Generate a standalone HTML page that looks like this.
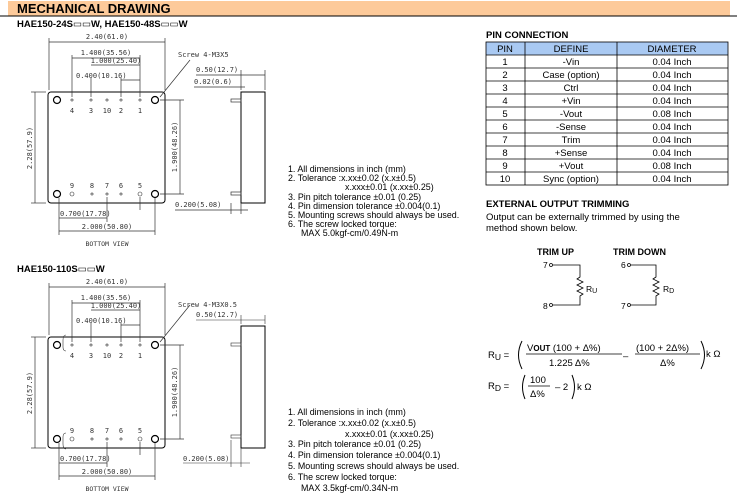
<!DOCTYPE html>
<html><head><meta charset="utf-8"><style>
body{margin:0;background:#fff;width:737px;height:502px;overflow:hidden}
svg{display:block;font-family:"Liberation Sans",sans-serif}
.m{font-family:"DejaVu Sans Mono","Liberation Mono",monospace;font-size:7px;fill:#333}
.n{font-size:8.9px;fill:#000}
</style></head><body>
<svg width="737" height="502" viewBox="0 0 737 502" xmlns="http://www.w3.org/2000/svg">
<rect x="8" y="1" width="722" height="15" fill="#fdca9a"/>
<line x1="0" y1="16" x2="737" y2="16" stroke="#000" stroke-width="1"/>
<text x="17" y="13" font-size="13" font-weight="bold">MECHANICAL DRAWING</text>
<text x="17" y="27" font-size="9.5" font-weight="bold">HAE150-24S<tspan font-weight="normal">▭▭</tspan>W, HAE150-48S<tspan font-weight="normal">▭▭</tspan>W</text>
<text x="17" y="272" font-size="9.5" font-weight="bold">HAE150-110S<tspan font-weight="normal">▭▭</tspan>W</text>

<defs>
<g id="dw" stroke="#333" stroke-width="0.7" fill="none">
<rect x="48" y="92" width="117" height="111" rx="3" stroke="#000" stroke-width="1"/>
<g stroke="#000" stroke-width="1.2">
<circle cx="57" cy="100" r="3.5"/><circle cx="155" cy="100" r="3.5"/>
<circle cx="57" cy="194" r="3.5"/><circle cx="155" cy="194" r="3.5"/></g>
<g stroke-width="0.6"><circle cx="72" cy="100" r="1.1"/><circle cx="91" cy="100" r="1.1"/><circle cx="107" cy="100" r="1.1"/><circle cx="121" cy="100" r="1.1"/><circle cx="140" cy="100" r="1.1"/>
<circle cx="72" cy="194" r="2"/><circle cx="92" cy="194" r="1.1"/><circle cx="107" cy="194" r="1.1"/><circle cx="121" cy="194" r="1.1"/><circle cx="140" cy="194" r="2"/></g>
<line x1="49" y1="42" x2="165" y2="42"/><line x1="49" y1="38" x2="49" y2="90"/><line x1="165" y1="38" x2="165" y2="90"/>
<line x1="72" y1="58" x2="140" y2="58"/><line x1="91" y1="65" x2="140" y2="65"/><line x1="121" y1="80" x2="140" y2="80"/>
<line x1="72" y1="55" x2="72" y2="97"/><line x1="91" y1="78" x2="91" y2="97"/><line x1="121" y1="78" x2="121" y2="97"/><line x1="140" y1="55" x2="140" y2="97"/>
<line x1="35" y1="92" x2="35" y2="203"/><line x1="31" y1="92" x2="46" y2="92"/><line x1="31" y1="203" x2="46" y2="203"/>
<line x1="180" y1="100" x2="180" y2="194"/><line x1="160" y1="100" x2="184" y2="100"/><line x1="160" y1="194" x2="184" y2="194"/>
<line x1="59" y1="198" x2="59" y2="235"/><line x1="107" y1="197" x2="107" y2="222"/><line x1="140" y1="197" x2="140" y2="210"/><line x1="155" y1="198" x2="155" y2="235"/>
<line x1="59" y1="218" x2="107" y2="218"/><line x1="59" y1="231" x2="155" y2="231"/>
<line x1="190" y1="60" x2="160" y2="97"/>
</g>
<g id="dt" class="m">
<text x="107" y="39" text-anchor="middle">2.40(61.0)</text>
<text x="106" y="55" text-anchor="middle">1.400(35.56)</text>
<text x="116" y="63" text-anchor="middle">1.000(25.40)</text>
<text x="76" y="78">0.400(10.16)</text>
<text x="72" y="113" text-anchor="middle">4</text><text x="91" y="113" text-anchor="middle">3</text><text x="107" y="113" text-anchor="middle">10</text><text x="121" y="113" text-anchor="middle">2</text><text x="140" y="113" text-anchor="middle">1</text>
<text x="72" y="188" text-anchor="middle">9</text><text x="92" y="188" text-anchor="middle">8</text><text x="107" y="188" text-anchor="middle">7</text><text x="121" y="188" text-anchor="middle">6</text><text x="140" y="188" text-anchor="middle">5</text>
<text transform="translate(32,148) rotate(-90)" text-anchor="middle">2.28(57.9)</text>
<text transform="translate(177,147) rotate(-90)" text-anchor="middle">1.900(48.26)</text>
<text x="60" y="216">0.700(17.78)</text>
<text x="107" y="229" text-anchor="middle">2.000(50.80)</text>
<text x="107" y="246" text-anchor="middle" font-size="6.5">BOTTOM  VIEW</text>
<text x="196" y="72">0.50(12.7)</text>
</g>
</defs>

<use href="#dw"/><use href="#dt"/>
<g class="m"><text x="178" y="57">Screw 4-M3X5</text><text x="194" y="84">0.02(0.6)</text><text x="175" y="207">0.200(5.08)</text></g>
<g stroke="#333" stroke-width="0.7" fill="none">
<line x1="196" y1="75" x2="265" y2="75"/><line x1="265" y1="70" x2="265" y2="90"/><line x1="241" y1="70" x2="241" y2="90"/><line x1="194" y1="87" x2="245" y2="87"/>
<rect x="241" y="92" width="24" height="111" stroke="#000" stroke-width="1"/>
<rect x="231" y="99" width="10" height="3"/><rect x="231" y="192" width="10" height="3"/>
<line x1="231" y1="203" x2="231" y2="214"/><line x1="241" y1="203" x2="241" y2="214"/><line x1="175" y1="210" x2="248" y2="210"/>
</g>

<g transform="translate(0,245)">
<use href="#dw"/><use href="#dt"/>
<g stroke="#333" stroke-width="0.6" fill="none">
<path d="M66,90 Q63,90 63,95 L63,102 Q63,106 66,106"/><path d="M66,204 Q63,204 63,199 L63,192 Q63,188 66,188"/>
<rect x="241" y="81" width="24" height="122" stroke="#000" stroke-width="1"/>
<rect x="231" y="98" width="10" height="3"/><rect x="231" y="190" width="10" height="3"/>
<line x1="196" y1="75" x2="265" y2="75"/><line x1="265" y1="70" x2="265" y2="79"/><line x1="241" y1="70" x2="241" y2="79"/>
<line x1="183" y1="218" x2="250" y2="218"/><line x1="231" y1="195" x2="231" y2="222"/><line x1="241" y1="203" x2="241" y2="222"/></g>
<g class="m"><text x="178" y="62">Screw 4-M3X0.5</text><text x="183" y="216">0.200(5.08)</text></g>
</g>

<g class="n">
<text x="288" y="172">1. All dimensions in inch (mm)</text>
<text x="288" y="181">2. Tolerance :x.xx±0.02 (x.x±0.5)</text>
<text x="345" y="190">x.xxx±0.01 (x.xx±0.25)</text>
<text x="288" y="200">3. Pin pitch tolerance ±0.01 (0.25)</text>
<text x="288" y="209">4. Pin dimension tolerance ±0.004(0.1)</text>
<text x="288" y="218">5. Mounting screws should always be used.</text>
<text x="288" y="227">6. The screw locked torque:</text>
<text x="301" y="236">MAX 5.0kgf-cm/0.49N-m</text>
<text x="288" y="415">1. All dimensions in inch (mm)</text>
<text x="288" y="426">2. Tolerance :x.xx±0.02 (x.x±0.5)</text>
<text x="345" y="437">x.xxx±0.01 (x.xx±0.25)</text>
<text x="288" y="447">3. Pin pitch tolerance ±0.01 (0.25)</text>
<text x="288" y="458">4. Pin dimension tolerance ±0.004(0.1)</text>
<text x="288" y="469">5. Mounting screws should always be used.</text>
<text x="288" y="480">6. The screw locked torque:</text>
<text x="301" y="491">MAX 3.5kgf-cm/0.34N-m</text>
</g>

<text x="486" y="38" font-size="9.5" font-weight="bold">PIN CONNECTION</text>
<rect x="486" y="42" width="242" height="13" fill="#a9c9f2"/>
<g stroke="#000" stroke-width="0.8" fill="none">
<rect x="486" y="42" width="242" height="143"/>
<line x1="525" y1="42" x2="525" y2="185"/><line x1="617" y1="42" x2="617" y2="185"/>
<line x1="486" y1="55" x2="728" y2="55"/><line x1="486" y1="68" x2="728" y2="68"/><line x1="486" y1="81" x2="728" y2="81"/><line x1="486" y1="94" x2="728" y2="94"/><line x1="486" y1="107" x2="728" y2="107"/><line x1="486" y1="120" x2="728" y2="120"/><line x1="486" y1="133" x2="728" y2="133"/><line x1="486" y1="146" x2="728" y2="146"/><line x1="486" y1="159" x2="728" y2="159"/><line x1="486" y1="172" x2="728" y2="172"/>
</g>
<g font-size="9.5" text-anchor="middle">
<text x="505" y="52">PIN</text><text x="571" y="52">DEFINE</text><text x="672" y="52">DIAMETER</text>
<text x="505" y="65">1</text><text x="571" y="65">-Vin</text><text x="672" y="65">0.04 Inch</text>
<text x="505" y="78">2</text><text x="571" y="78">Case (option)</text><text x="672" y="78">0.04 Inch</text>
<text x="505" y="91">3</text><text x="571" y="91">Ctrl</text><text x="672" y="91">0.04 Inch</text>
<text x="505" y="104">4</text><text x="571" y="104">+Vin</text><text x="672" y="104">0.04 Inch</text>
<text x="505" y="117">5</text><text x="571" y="117">-Vout</text><text x="672" y="117">0.08 Inch</text>
<text x="505" y="130">6</text><text x="571" y="130">-Sense</text><text x="672" y="130">0.04 Inch</text>
<text x="505" y="143">7</text><text x="571" y="143">Trim</text><text x="672" y="143">0.04 Inch</text>
<text x="505" y="156">8</text><text x="571" y="156">+Sense</text><text x="672" y="156">0.04 Inch</text>
<text x="505" y="169">9</text><text x="571" y="169">+Vout</text><text x="672" y="169">0.08 Inch</text>
<text x="505" y="182">10</text><text x="571" y="182">Sync (option)</text><text x="672" y="182">0.04 Inch</text>
</g>
<text x="486" y="207" font-size="9.5" font-weight="bold">EXTERNAL OUTPUT TRIMMING</text>
<text x="486" y="220" font-size="9.5">Output can be externally trimmed by using the</text>
<text x="486" y="231" font-size="9.5">method shown below.</text>

<g font-size="9" font-weight="bold"><text x="537" y="255">TRIM UP</text><text x="613" y="255">TRIM DOWN</text></g>
<g font-size="8.5"><text x="543" y="268">7</text><text x="543" y="309">8</text><text x="621" y="268">6</text><text x="621" y="309">7</text>
<text x="586" y="292">R<tspan font-size="7" dy="1">U</tspan></text><text x="663" y="292">R<tspan font-size="7" dy="1">D</tspan></text></g>
<g stroke="#000" stroke-width="0.8" fill="none">
<circle cx="551" cy="265" r="1.5"/><circle cx="551" cy="305" r="1.5"/><circle cx="629" cy="265" r="1.5"/><circle cx="629" cy="305" r="1.5"/>
<polyline points="553,265 580,265 580,277 577,279 583,282 577,285 583,288 577,291 583,294 580,296 580,305 553,305"/>
<polyline points="631,265 656,265 656,277 653,279 659,282 653,285 659,288 653,291 659,294 656,296 656,305 631,305"/>
</g>

<g font-size="9.5">
<text x="488" y="358">R<tspan dy="2" font-size="8.5">U</tspan><tspan dy="-2"> =</tspan></text>
<text x="527" y="351">V<tspan font-size="8" font-weight="bold">OUT</tspan>  (100  + Δ%)</text>
<line x1="526" y1="354" x2="622" y2="354" stroke="#000" stroke-width="0.8"/>
<text x="549" y="366">1.225  Δ%</text>
<text x="623" y="359">–</text>
<text x="636" y="351">(100  + 2Δ%)</text>
<line x1="635" y1="354" x2="700" y2="354" stroke="#000" stroke-width="0.8"/>
<text x="660" y="366">Δ%</text>
<text x="706" y="357">k Ω</text>
<text x="488" y="389">R<tspan dy="2" font-size="8.5">D</tspan><tspan dy="-2"> =</tspan></text>
<text x="530" y="383">100</text>
<line x1="528" y1="386" x2="550" y2="386" stroke="#000" stroke-width="0.8"/>
<text x="530" y="397">Δ%</text>
<text x="555" y="390">–  2</text>
<text x="577" y="390">k Ω</text>
</g>
<g stroke="#000" stroke-width="1" fill="none">
<path d="M522,341 Q515,355 522,369"/><path d="M701,341 Q708,355 701,369"/>
<path d="M525,375 Q520,387 525,399"/><path d="M572,375 Q577,387 572,399"/>
</g>
</svg>
</body></html>
